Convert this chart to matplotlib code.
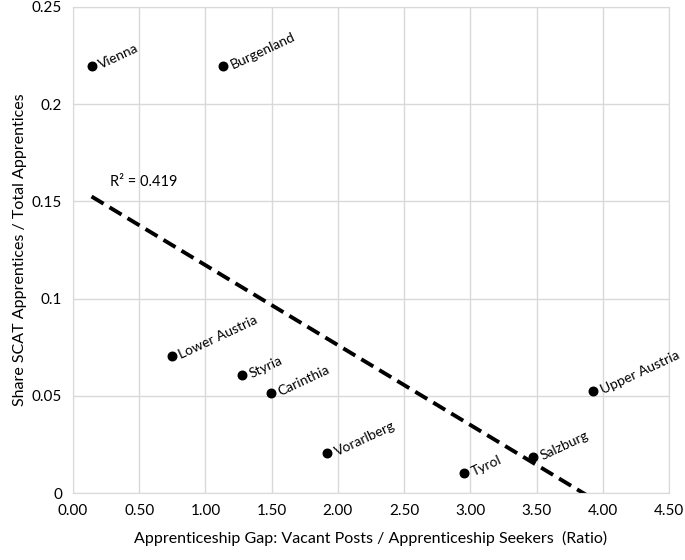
import numpy as np
import matplotlib
matplotlib.use("Agg")
import matplotlib.pyplot as plt
from matplotlib.ticker import FuncFormatter

regions = ["Vienna", "Burgenland", "Lower Austria", "Styria", "Carinthia",
           "Vorarlberg", "Tyrol", "Salzburg", "Upper Austria"]
gap = [0.14, 1.135, 0.745, 1.275, 1.495, 1.92, 2.955, 3.475, 3.93]
share = [0.2195, 0.2195, 0.0705, 0.0605, 0.0517, 0.0207, 0.0101, 0.0183, 0.0523]
r2_label = "R² = 0.419"

plt.rcParams['font.family'] = ['Lato', 'DejaVu Sans']
fig = plt.figure(figsize=(6.85, 5.6), dpi=100)
ax = fig.add_axes([0.1066, 0.1196, 0.8700, 0.8679])

x = np.array(gap)
y = np.array(share)
ax.scatter(x, y, s=38, color='black', zorder=3)

# linear trendline
m, b = np.polyfit(x, y, 1)
xs = np.array([x.min(), x.max()])
ax.plot(xs, m * xs + b, color='black', lw=2.8, ls=(0, (3.6, 1.8)), zorder=2)
ax.text(0.28, 0.1565, r2_label, fontsize=10.5, ha='left', va='bottom')

for name, xi, yi in zip(regions, gap, share):
    ax.annotate(name, (xi, yi), xytext=(7.5, -3.5), textcoords='offset points',
                rotation=25, rotation_mode='anchor', ha='left', va='bottom',
                fontsize=10)

ax.set_xlim(0, 4.5)
ax.set_ylim(0, 0.25)
ax.set_xticks(np.arange(0, 4.51, 0.5))
ax.set_yticks([0, 0.05, 0.1, 0.15, 0.2, 0.25])
ax.xaxis.set_major_formatter(FuncFormatter(lambda v, p: "%.2f" % v))
ax.yaxis.set_major_formatter(FuncFormatter(lambda v, p: "0" if abs(v) < 1e-9 else ("%.2f" % v).rstrip('0')))
ax.tick_params(length=0, labelsize=11, pad=8)
ax.grid(True, color='#d9d9d9', lw=1)
ax.set_axisbelow(True)
for s in ax.spines.values():
    s.set_color('#d9d9d9')
ax.set_xlabel("Apprenticeship Gap: Vacant Posts / Apprenticeship Seekers  (Ratio)", fontsize=11.5, labelpad=9)
ax.set_ylabel("Share SCAT Apprentices / Total Apprentices", fontsize=11.5, labelpad=3)

fig.savefig("out.png", dpi=100)
